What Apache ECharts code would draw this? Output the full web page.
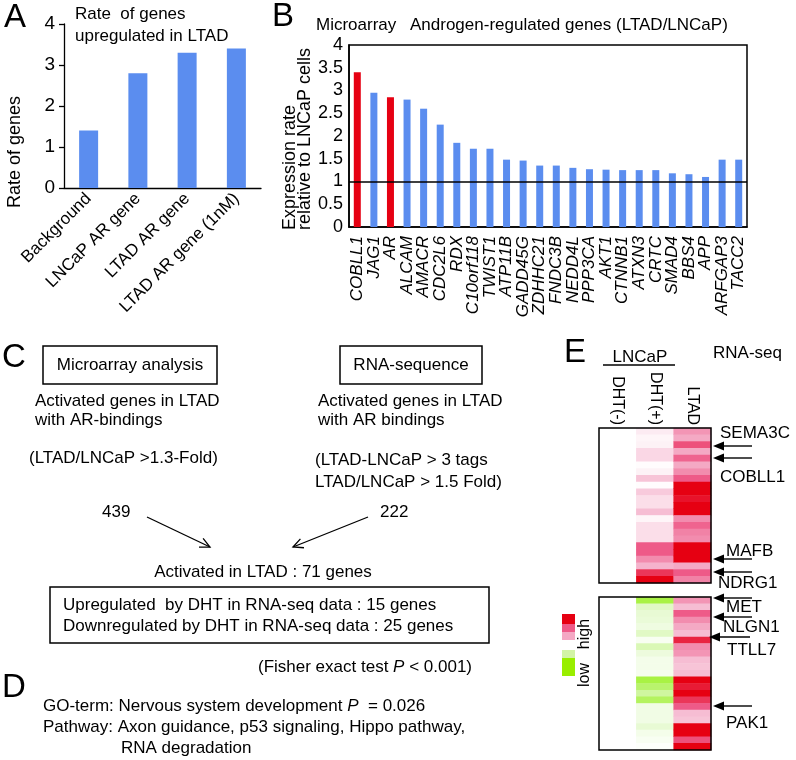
<!DOCTYPE html>
<html>
<head>
<meta charset="utf-8">
<script src="https://cdn.jsdelivr.net/npm/echarts/dist/echarts.min.js"></script>
<style>
html,body{margin:0;padding:0;background:#fff;}
#c{width:796px;height:760px;}
</style>
</head>
<body>
<div id="c"></div>
<script>
// ---------- Panel A data ----------
const aCategories = ['Background', 'LNCaP AR gene', 'LTAD AR gene', 'LTAD AR gene (1nM)'];
const aValues = [1.4, 2.8, 3.3, 3.4];
const aTicks = [0, 1, 2, 3, 4];

// ---------- Panel B data ----------
const bGenes = ['COBLL1', 'JAG1', 'AR', 'ALCAM', 'AMACR', 'CDC2L6', 'RDX', 'C10orf118', 'TWIST1', 'ATP11B',
  'GADD45G', 'ZDHHC21', 'FNDC3B', 'NEDD4L', 'PPP3CA', 'AKT1', 'CTNNB1', 'ATXN3', 'CRTC', 'SMAD4',
  'BBS4', 'APP', 'ARFGAP3', 'TACC2'];
const bValues = [3.4, 2.95, 2.85, 2.8, 2.6, 2.25, 1.85, 1.72, 1.72, 1.48,
  1.46, 1.35, 1.35, 1.3, 1.27, 1.26, 1.25, 1.25, 1.25, 1.18,
  1.16, 1.1, 1.48, 1.48];
const bHighlighted = ['COBLL1', 'AR'];
const bReference = 1;

// ---------- Panel E data (heatmap, columns) ----------
const eColumns = ['DHT(-)', 'DHT(+)', 'LTAD'];
const eUpperDHTminus = [0,0,0,0,0,0,0,0,0,0,0,0,0,0,0,0,0,0,0,0,0,0,0];
const eUpperDHTplus  = [0.3,0.15,0.2,0.6,0.6,0.05,0.2,0.9,0.05,0.8,0.5,0.5,1.0,0.15,0.5,0.5,0.5,2.0,2.0,1.5,1.1,2.4,3.0];
const eUpperLTAD     = [1.4,1.2,2.1,1.2,1.9,1.2,1.5,2.0,3.0,3.0,2.8,3.0,3.0,1.5,1.9,1.6,1.5,3.0,3.0,3.0,1.2,2.0,1.6];
const eLowerDHTminus = [0,0,0,0,0,0,0,0,0,0,0,0,0,0,0,0,0,0,0,0,0,0,0];
const eLowerDHTplus  = [-2.5,-1.2,-1.0,-0.9,-0.7,-1.2,-0.3,-1.4,-0.8,-0.5,-0.5,-0.4,-2.5,-2.2,-1.7,-2.3,-0.6,-0.6,-0.6,-1.0,-0.5,-0.3,-0.1];
const eLowerLTAD     = [1.4,1.0,2.0,1.5,1.2,1.0,2.6,1.5,1.4,1.0,0.9,1.0,3.0,2.7,3.0,2.4,2.0,1.0,0.9,3.0,3.0,2.1,3.0];
const eColorScale = ['#8ef000', '#c4f488', '#e8fad4', '#ffffff', '#f6bdd3', '#ee5a88', '#e60012'];

const F = "'Liberation Sans', Arial, Helvetica, sans-serif";
const BLUE = '#5b8def';
const RED = '#e60012';

function heat(cols) {
  const out = [];
  cols.forEach((col, c) => col.forEach((v, r) => out.push([c, r, v])));
  return out;
}
const upperRows = eUpperLTAD.map((_, i) => String(i));
const lowerRows = eLowerLTAD.map((_, i) => String(i));

function T(text, x, y, size, extra) {
  return Object.assign({
    type: 'text', x: x, y: y, z: 50,
    style: Object.assign({
      text: text, fill: '#000', fontSize: size, fontFamily: F,
      textAlign: 'left', textVerticalAlign: 'middle'
    }, (extra && extra.style) || {})
  }, extra && extra.rotation !== undefined ? { rotation: extra.rotation } : {});
}
function box(x, y, w, h) {
  return { type: 'rect', z: 50, shape: { x: x, y: y, width: w, height: h },
    style: { fill: null, stroke: '#000', lineWidth: 1.5 } };
}
function arrowOpen(x1, y1, x2, y2) {
  const ang = Math.atan2(y2 - y1, x2 - x1), L = 11, a = Math.PI / 7;
  const p1 = [x2 - L * Math.cos(ang - a), y2 - L * Math.sin(ang - a)];
  const p2 = [x2 - L * Math.cos(ang + a), y2 - L * Math.sin(ang + a)];
  return [
    { type: 'line', z: 50, shape: { x1: x1, y1: y1, x2: x2, y2: y2 }, style: { stroke: '#000', lineWidth: 1.3 } },
    { type: 'polyline', z: 50, shape: { points: [p1, [x2, y2], p2] }, style: { stroke: '#000', lineWidth: 1.3, fill: null } }
  ];
}
function arrowFilled(y, tipX, tailX) {
  return [
    { type: 'line', z: 60, shape: { x1: tailX, y1: y, x2: tipX + 8, y2: y }, style: { stroke: '#000', lineWidth: 1.4 } },
    { type: 'polygon', z: 60, shape: { points: [[tipX, y], [tipX + 11, y - 4.5], [tipX + 11, y + 4.5]] }, style: { fill: '#000' } }
  ];
}

const graphics = [];
// panel letters
graphics.push(T('A', 4, 18, 33));
graphics.push(T('B', 272, 17, 33));
graphics.push(T('C', 2, 358, 33));
graphics.push(T('D', 2, 688, 33));
graphics.push(T('E', 564, 353, 33));

// Panel A texts
graphics.push(T('Rate  of genes', 75, 14, 17));
graphics.push(T('upregulated in LTAD', 75, 36, 17));
graphics.push(T('Rate of genes', 15, 152, 18, { rotation: Math.PI / 2, style: { textAlign: 'center' } }));

// Panel B texts
graphics.push(T('Microarray', 316, 25, 17));
graphics.push(T('Androgen-regulated genes (LTAD/LNCaP)', 410, 25, 17));
graphics.push(T('Expression rate', 290, 230, 18, { rotation: Math.PI / 2 }));
graphics.push(T('relative to LNCaP cells', 305, 230, 18, { rotation: Math.PI / 2 }));

// Panel C
graphics.push(box(43, 346, 174, 38));
graphics.push(T('Microarray analysis', 130, 365, 17, { style: { textAlign: 'center' } }));
graphics.push(box(340, 346, 142, 38));
graphics.push(T('RNA-sequence', 411, 365, 17, { style: { textAlign: 'center' } }));
graphics.push(T('Activated genes in LTAD', 35, 401, 17));
graphics.push(T('with AR-bindings', 35, 420, 17));
graphics.push(T('Activated genes in LTAD', 318, 401, 17));
graphics.push(T('with AR bindings', 318, 420, 17));
graphics.push(T('(LTAD/LNCaP >1.3-Fold)', 29, 458, 17));
graphics.push(T('(LTAD-LNCaP > 3 tags', 315, 460, 17));
graphics.push(T('LTAD/LNCaP > 1.5 Fold)', 315, 482, 17));
graphics.push(T('439', 102, 512, 17));
graphics.push(T('222', 380, 512, 17));
arrowOpen(147, 517, 210, 547).forEach(g => graphics.push(g));
arrowOpen(368, 517, 293, 547).forEach(g => graphics.push(g));
graphics.push(T('Activated in LTAD : 71 genes', 263, 572, 17, { style: { textAlign: 'center' } }));
graphics.push(box(50, 587, 439, 56));
graphics.push(T('Upregulated  by DHT in RNA-seq data : 15 genes', 63, 605, 17));
graphics.push(T('Downregulated by DHT in RNA-seq data : 25 genes', 63, 626, 17));
graphics.push(T('{n|(Fisher exact test }{i|P}{n| < 0.001)}', 258, 667, 17, { style: {
  rich: { n: { fontSize: 17, fontFamily: F, fill: '#000' }, i: { fontSize: 17, fontFamily: F, fontStyle: 'italic', fill: '#000' } } } }));

// Panel D
graphics.push(T('{n|GO-term: Nervous system development }{i|P}{n|  = 0.026}', 43, 706, 17, { style: {
  rich: { n: { fontSize: 17, fontFamily: F, fill: '#000' }, i: { fontSize: 17, fontFamily: F, fontStyle: 'italic', fill: '#000' } } } }));
graphics.push(T('Pathway: Axon guidance, p53 signaling, Hippo pathway,', 43, 727, 17));
graphics.push(T('RNA degradation', 121, 748, 17));

// Panel E
graphics.push(T('LNCaP', 640, 357, 17, { style: { textAlign: 'center' } }));
graphics.push({ type: 'line', z: 50, shape: { x1: 603, y1: 365, x2: 675, y2: 365 }, style: { stroke: '#000', lineWidth: 1.3 } });
graphics.push(T('RNA-seq', 713, 353, 17));
[['SEMA3C', 720, 433], ['COBLL1', 720, 477], ['MAFB', 726, 551], ['NDRG1', 718, 583], ['MET', 726, 607],
 ['NLGN1', 723, 627], ['TTLL7', 727, 650], ['PAK1', 726, 723]].forEach(g => graphics.push(T(g[0], g[1], g[2], 17)));
[[446, 713, 752], [458, 713, 752], [559, 713, 752], [572, 713, 752], [598, 713, 752],
 [617, 713, 752], [637, 709, 750], [706, 713, 752]].forEach(a => arrowFilled(a[0], a[1], a[2]).forEach(g => graphics.push(g)));
graphics.push(box(599, 428, 112, 155));
graphics.push(box(599, 597, 112, 153));
// legend (high/low)
[[614, 10, '#e60012'], [624, 8, '#ee5a88'], [632, 8, '#f4a8c4'], [650, 8, '#d2f4a6'], [658, 18, '#99ee00']].forEach(r =>
  graphics.push({ type: 'rect', z: 50, shape: { x: 562, y: r[0], width: 13, height: r[1] }, style: { fill: r[2] } }));
graphics.push(T('high', 585, 634, 16, { rotation: Math.PI / 2, style: { textAlign: 'center' } }));
graphics.push(T('low', 585, 675, 16, { rotation: Math.PI / 2, style: { textAlign: 'center' } }));

const chart = echarts.init(document.getElementById('c'), null, { renderer: 'canvas' });
chart.setOption({
  animation: false,
  backgroundColor: '#fff',
  textStyle: { fontFamily: F },
  grid: [
    { left: 64, top: 24, width: 197, height: 164 },
    { left: 349, top: 45, width: 398, height: 182, show: true, borderColor: '#000', borderWidth: 1.5 },
    { left: 599, top: 428, width: 112, height: 155 },
    { left: 599, top: 597, width: 112, height: 153 }
  ],
  xAxis: [
    { gridIndex: 0, type: 'category', data: aCategories,
      axisLine: { lineStyle: { color: '#000', width: 1.3 } }, axisTick: { show: false },
      axisLabel: { rotate: 45, interval: 0, fontSize: 17, color: '#000', fontFamily: F, margin: 8 } },
    { gridIndex: 1, type: 'category', data: bGenes,
      axisLine: { lineStyle: { color: '#000', width: 1.5 } }, axisTick: { show: false },
      axisLabel: { rotate: 90, interval: 0, fontSize: 17, color: '#000', fontFamily: F, fontStyle: 'italic', margin: 9 } },
    { gridIndex: 2, type: 'category', data: eColumns, position: 'top',
      axisLine: { show: false }, axisTick: { show: false }, splitLine: { show: false },
      axisLabel: { rotate: 90, interval: 0, fontSize: 16, color: '#000', fontFamily: F, margin: 3 } },
    { gridIndex: 3, type: 'category', data: eColumns, show: false }
  ],
  yAxis: [
    { gridIndex: 0, type: 'value', min: aTicks[0], max: aTicks[aTicks.length - 1], interval: 1,
      axisLine: { show: true, lineStyle: { color: '#000', width: 1.3 } },
      axisTick: { show: true, length: 5, lineStyle: { color: '#000', width: 1.3 } },
      splitLine: { show: false },
      axisLabel: { fontSize: 19, color: '#000', fontFamily: F, margin: 9 } },
    { gridIndex: 1, type: 'value', min: 0, max: 4, interval: 0.5,
      axisLine: { show: true, lineStyle: { color: '#000', width: 1.5 } },
      axisTick: { show: false }, splitLine: { show: false },
      axisLabel: { fontSize: 18, color: '#000', fontFamily: F, margin: 6 } },
    { gridIndex: 2, type: 'category', data: upperRows, inverse: true, show: false },
    { gridIndex: 3, type: 'category', data: lowerRows, inverse: true, show: false }
  ],
  visualMap: {
    type: 'continuous', show: false, min: -3, max: 3, seriesIndex: [2, 3],
    inRange: { color: eColorScale }
  },
  series: [
    { type: 'bar', xAxisIndex: 0, yAxisIndex: 0, data: aValues, barWidth: 19,
      itemStyle: { color: BLUE } },
    { type: 'bar', xAxisIndex: 1, yAxisIndex: 1, barWidth: 7,
      data: bValues.map((v, i) => ({ value: v, itemStyle: { color: bHighlighted.includes(bGenes[i]) ? RED : BLUE } })),
      markLine: { silent: true, symbol: 'none', label: { show: false },
        lineStyle: { color: '#000', type: 'solid', width: 1.5 }, data: [{ yAxis: bReference }] } },
    { type: 'heatmap', xAxisIndex: 2, yAxisIndex: 2,
      data: heat([eUpperDHTminus, eUpperDHTplus, eUpperLTAD]) },
    { type: 'heatmap', xAxisIndex: 3, yAxisIndex: 3,
      data: heat([eLowerDHTminus, eLowerDHTplus, eLowerLTAD]) }
  ],
  graphic: { elements: graphics }
});
</script>
</body>
</html>
